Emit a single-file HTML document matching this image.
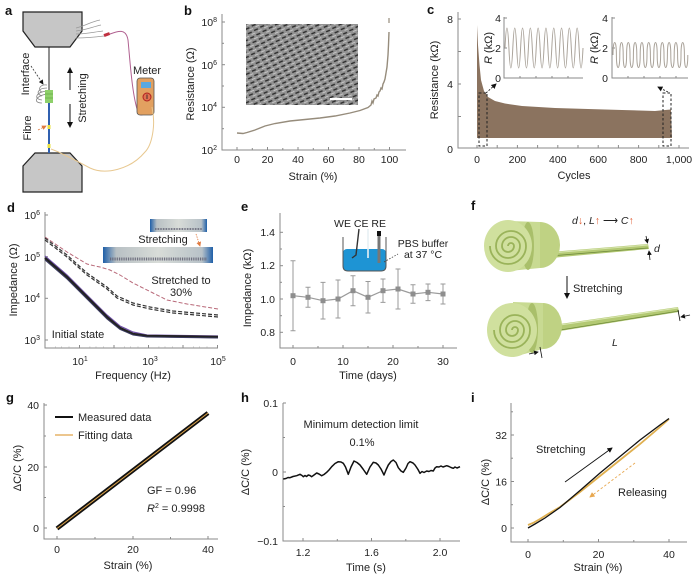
<!DOCTYPE html>
<html><head><meta charset="utf-8">
<style>
html,body{margin:0;padding:0;background:#fff;}
svg{display:block;font-family:"Liberation Sans",Arial,sans-serif;}
.t{font-size:10.5px;fill:#222;}
.ti{font-size:11px;fill:#222;}
.pl{font-size:13px;font-weight:bold;fill:#111;}
.ax{stroke:#8a8a8a;stroke-width:1;fill:none;}
</style></head><body>
<svg width="700" height="578" viewBox="0 0 700 578" xmlns="http://www.w3.org/2000/svg">
<defs>
<pattern id="sem" width="7" height="5" patternUnits="userSpaceOnUse" patternTransform="rotate(-28)">
<rect width="7" height="5" fill="#8c8c8c"/>
<path d="M0,1.2 L4.2,1.6" stroke="#1e1e1e" stroke-width="1.4"/>
<path d="M3,3.6 L7,3.9" stroke="#d4d4d4" stroke-width="0.8"/>
</pattern>
<linearGradient id="ph" x1="0" y1="0" x2="1" y2="0">
<stop offset="0" stop-color="#1f5fa8"/><stop offset="0.12" stop-color="#b8c0c4"/><stop offset="0.5" stop-color="#d8dcd8"/><stop offset="0.9" stop-color="#b8c2c8"/><stop offset="1" stop-color="#1f5fa8"/>
</linearGradient>
<marker id="ah" markerWidth="6" markerHeight="6" refX="5" refY="3" orient="auto"><path d="M0,0 L6,3 L0,6 z" fill="#111"/></marker>
<marker id="ahr" markerWidth="6" markerHeight="6" refX="5" refY="3" orient="auto"><path d="M0,0 L6,3 L0,6 z" fill="#e07a40"/></marker>
<marker id="aho" markerWidth="6" markerHeight="6" refX="5" refY="3" orient="auto"><path d="M0,0 L6,3 L0,6 z" fill="#e8a850"/></marker>
</defs>

<!-- ============ PANEL A ============ -->
<text class="pl" x="5" y="15">a</text>
<polygon points="23,12 82,12 82,31 70,47 35,47 23,31" fill="#c6c6c6" stroke="#222" stroke-width="1.2"/>
<polygon points="35,153 70,153 82,166 82,192 23,192 23,166" fill="#c6c6c6" stroke="#222" stroke-width="1.2"/>
<path d="M76,28 C85,26 90,22 100,20" stroke="#999" stroke-width="0.8" fill="none"/>
<path d="M76,31 C86,30 92,27 101,25" stroke="#999" stroke-width="0.8" fill="none"/>
<path d="M76,34 C86,34 94,32 103,31" stroke="#999" stroke-width="0.8" fill="none"/>
<path d="M76,38 C86,38 96,37 104,36" stroke="#999" stroke-width="0.8" fill="none"/>
<rect x="104" y="33" width="6" height="3" fill="#c03040" transform="rotate(-20 107 35)"/>
<path d="M110,34 C118,31 126,28 128,40 C130,60 132,95 138,112 C141,118 146,114 146,108" stroke="#b06090" stroke-width="1" fill="none"/>
<rect x="137" y="78" width="17" height="37" rx="3" fill="#e2a060" stroke="#555" stroke-width="0.8"/>
<rect x="141" y="82" width="10" height="6" fill="#5aa8e0"/>
<circle cx="147" cy="97" r="4" fill="#e07050" stroke="#b02020" stroke-width="1"/>
<line x1="147" y1="94.5" x2="147" y2="99" stroke="#222" stroke-width="0.8"/>
<text class="ti" x="147" y="74" text-anchor="middle">Meter</text>
<path d="M152,107 C156,125 152,145 145,152 C130,170 105,175 90,168 C75,160 60,152 51,149" stroke="#e8c890" stroke-width="1" fill="none"/>
<line x1="49" y1="47" x2="49" y2="90" stroke="#222" stroke-width="1"/>
<path d="M47,85 C40,84 37,90 42,92 M47,88 C38,88 35,94 42,96 M47,91 C36,92 33,99 42,100 M47,94 C35,96 33,103 42,103" stroke="#888" stroke-width="0.8" fill="none"/>
<rect x="45" y="90" width="8" height="13" fill="#8ed06a"/>
<line x1="45" y1="94" x2="53" y2="94" stroke="#5ca040" stroke-width="0.6"/>
<line x1="45" y1="98" x2="53" y2="98" stroke="#5ca040" stroke-width="0.6"/>
<line x1="49" y1="103" x2="49" y2="153" stroke="#3060b0" stroke-width="2"/>
<rect x="47.5" y="125" width="3" height="4" fill="#e8e040"/>
<rect x="47.5" y="144" width="3" height="4" fill="#e8e040"/>
<path d="M31,66 L43,84" stroke="#333" stroke-width="0.8" stroke-dasharray="2,1.5" marker-end="url(#ah)"/>
<path d="M38,130 L46,126" stroke="#e07a40" stroke-width="0.8" stroke-dasharray="2,1.5" marker-end="url(#ahr)"/>
<text class="ti" transform="translate(29,74) rotate(-90)" text-anchor="middle">Interface</text>
<text class="ti" transform="translate(31,128) rotate(-90)" text-anchor="middle">Fibre</text>
<line x1="70" y1="90" x2="70" y2="68" stroke="#111" stroke-width="1" marker-end="url(#ah)"/>
<line x1="70" y1="104" x2="70" y2="127" stroke="#111" stroke-width="1" marker-end="url(#ah)"/>
<text class="ti" transform="translate(86,98) rotate(-90)" text-anchor="middle">Stretching</text>

<!-- ============ PANEL B ============ -->
<text class="pl" x="184" y="15">b</text>
<path class="ax" d="M222,14 L222,150 L406,150"/>
<g stroke="#8a8a8a" stroke-width="1">
<line x1="222" y1="22" x2="225" y2="22"/><line x1="222" y1="43.3" x2="224" y2="43.3"/>
<line x1="222" y1="64.7" x2="225" y2="64.7"/><line x1="222" y1="86" x2="224" y2="86"/>
<line x1="222" y1="107.3" x2="225" y2="107.3"/><line x1="222" y1="128.7" x2="224" y2="128.7"/>
<line x1="237" y1="150" x2="237" y2="147"/><line x1="252.3" y1="150" x2="252.3" y2="148"/>
<line x1="267.5" y1="150" x2="267.5" y2="147"/><line x1="282.8" y1="150" x2="282.8" y2="148"/>
<line x1="298" y1="150" x2="298" y2="147"/><line x1="313.3" y1="150" x2="313.3" y2="148"/>
<line x1="328.5" y1="150" x2="328.5" y2="147"/><line x1="343.8" y1="150" x2="343.8" y2="148"/>
<line x1="359" y1="150" x2="359" y2="147"/><line x1="374.3" y1="150" x2="374.3" y2="148"/>
<line x1="389.5" y1="150" x2="389.5" y2="147"/>
</g>
<text class="t" x="217" y="26" text-anchor="end">10<tspan font-size="7" dy="-4">8</tspan></text>
<text class="t" x="217" y="69" text-anchor="end">10<tspan font-size="7" dy="-4">6</tspan></text>
<text class="t" x="217" y="111" text-anchor="end">10<tspan font-size="7" dy="-4">4</tspan></text>
<text class="t" x="217" y="154" text-anchor="end">10<tspan font-size="7" dy="-4">2</tspan></text>
<g class="t" text-anchor="middle">
<text x="237" y="163">0</text><text x="267.5" y="163">20</text><text x="298" y="163">40</text>
<text x="328.5" y="163">60</text><text x="359" y="163">80</text><text x="389.5" y="163">100</text>
</g>
<text class="ti" x="313" y="180" text-anchor="middle">Strain (%)</text>
<text class="ti" transform="translate(194,84) rotate(-90)" text-anchor="middle">Resistance (Ω)</text>
<rect x="246" y="24" width="112" height="81" fill="url(#sem)"/>
<rect x="246" y="24" width="112" height="81" fill="#fff" opacity="0.06"/>
<line x1="330" y1="99" x2="352" y2="99" stroke="#fff" stroke-width="2"/>
<polyline points="237,133 243,133.5 247,132.5 255,130 265,126 275,123.5 290,121 305,119.5 320,118 335,116 350,113 360,110.5 368,107.5 371,105 372,101 373,103 374,99 376,98 377,95 378,96 379,92 380,91 381,88 382,89 383,84 384,82 385,79 386,73 387,67 388,55 388.5,45 389,32" fill="none" stroke="#968c7c" stroke-width="1.4"/>
<line x1="389" y1="18" x2="389" y2="23" stroke="#968c7c" stroke-width="1.2"/>

<!-- ============ PANEL C ============ -->
<text class="pl" x="427" y="14">c</text>
<path class="ax" d="M458,12 L458,148 L689,148"/>
<g stroke="#8a8a8a" stroke-width="1">
<line x1="458" y1="19" x2="461" y2="19"/><line x1="458" y1="51.5" x2="461" y2="51.5"/>
<line x1="458" y1="84" x2="461" y2="84"/><line x1="458" y1="116.5" x2="461" y2="116.5"/>
<line x1="477" y1="148" x2="477" y2="145"/><line x1="497.2" y1="148" x2="497.2" y2="145"/>
<line x1="517.4" y1="148" x2="517.4" y2="145"/><line x1="537.6" y1="148" x2="537.6" y2="145"/>
<line x1="557.8" y1="148" x2="557.8" y2="145"/><line x1="578" y1="148" x2="578" y2="145"/>
<line x1="598.2" y1="148" x2="598.2" y2="145"/><line x1="618.4" y1="148" x2="618.4" y2="145"/>
<line x1="638.6" y1="148" x2="638.6" y2="145"/><line x1="658.8" y1="148" x2="658.8" y2="145"/>
<line x1="679" y1="148" x2="679" y2="145"/>
</g>
<g class="t" text-anchor="end"><text x="453" y="23">8</text><text x="453" y="88">4</text><text x="453" y="153">0</text></g>
<g class="t" text-anchor="middle">
<text x="477" y="163">0</text><text x="517.4" y="163">200</text><text x="557.8" y="163">400</text>
<text x="598.2" y="163">600</text><text x="638.6" y="163">800</text><text x="679" y="163">1,000</text>
</g>
<text class="ti" x="574" y="179" text-anchor="middle">Cycles</text>
<text class="ti" transform="translate(438,80) rotate(-90)" text-anchor="middle">Resistance (kΩ)</text>
<path d="M477,138 L477,25 L478,45 L479.5,65 L481,80 L484,91 L488,97 L495,101 L505,103.5 L522,106 L555,108 L588,109 L622,110 L655,111 L665,110 L671,109.5 L672,138 Z" fill="#8b735f"/>
<rect x="479" y="93" width="8" height="53" fill="none" stroke="#222" stroke-width="1" stroke-dasharray="2.5,2"/>
<rect x="663" y="93" width="8" height="53" fill="none" stroke="#222" stroke-width="1" stroke-dasharray="2.5,2"/>
<line x1="486" y1="93" x2="496" y2="84" stroke="#222" stroke-width="0.9" stroke-dasharray="2,1.5" marker-end="url(#ah)"/>
<line x1="668" y1="92" x2="658" y2="87" stroke="#222" stroke-width="0.9" stroke-dasharray="2,1.5" marker-end="url(#ah)"/>
<path class="ax" d="M504,17 L504,78 L583,78"/>
<g stroke="#8a8a8a" stroke-width="1"><line x1="504" y1="18" x2="507" y2="18"/><line x1="504" y1="48" x2="507" y2="48"/>
<line x1="520" y1="78" x2="520" y2="76"/><line x1="536" y1="78" x2="536" y2="76"/><line x1="552" y1="78" x2="552" y2="76"/><line x1="568" y1="78" x2="568" y2="76"/></g>
<g class="t" text-anchor="end"><text x="501" y="22">4</text><text x="501" y="52">2</text><text x="501" y="82">0</text></g>
<text class="ti" transform="translate(492,48) rotate(-90)" text-anchor="middle"><tspan font-style="italic">R</tspan> (kΩ)</text>
<path d="M505,48 q1.95,-40 3.9,0 t3.9,0 t3.9,0 t3.9,0 t3.9,0 t3.9,0 t3.9,0 t3.9,0 t3.9,0 t3.9,0 t3.9,0 t3.9,0 t3.9,0 t3.9,0 t3.9,0 t3.9,0 t3.9,0 t3.9,0 t3.9,0 t3.9,0" fill="none" stroke="#aaa39a" stroke-width="1"/>
<path class="ax" d="M612,17 L612,78 L688,78"/>
<g stroke="#8a8a8a" stroke-width="1"><line x1="612" y1="18" x2="615" y2="18"/><line x1="612" y1="48" x2="615" y2="48"/>
<line x1="628" y1="78" x2="628" y2="76"/><line x1="644" y1="78" x2="644" y2="76"/><line x1="660" y1="78" x2="660" y2="76"/><line x1="676" y1="78" x2="676" y2="76"/></g>
<g class="t" text-anchor="end"><text x="608" y="22">4</text><text x="608" y="52">2</text><text x="608" y="82">0</text></g>
<text class="ti" transform="translate(598,48) rotate(-90)" text-anchor="middle"><tspan font-style="italic">R</tspan> (kΩ)</text>
<path d="M613,55 c0,-16.7 3.4,-16.7 3.4,0 c0,16.7 3.4,16.7 3.4,0 c0,-16.7 3.4,-16.7 3.4,0 c0,16.7 3.4,16.7 3.4,0 c0,-16.7 3.4,-16.7 3.4,0 c0,16.7 3.4,16.7 3.4,0 c0,-16.7 3.4,-16.7 3.4,0 c0,16.7 3.4,16.7 3.4,0 c0,-16.7 3.4,-16.7 3.4,0 c0,16.7 3.4,16.7 3.4,0 c0,-16.7 3.4,-16.7 3.4,0 c0,16.7 3.4,16.7 3.4,0 c0,-16.7 3.4,-16.7 3.4,0 c0,16.7 3.4,16.7 3.4,0 c0,-16.7 3.4,-16.7 3.4,0 c0,16.7 3.4,16.7 3.4,0 c0,-16.7 3.4,-16.7 3.4,0 c0,16.7 3.4,16.7 3.4,0 c0,-16.7 3.4,-16.7 3.4,0 c0,16.7 3.4,16.7 3.4,0 c0,-16.7 3.4,-16.7 3.4,0 c0,16.7 3.4,16.7 3.4,0" fill="none" stroke="#aaa39a" stroke-width="1"/>

<!-- ============ PANEL D ============ -->
<text class="pl" x="7" y="212">d</text>
<path class="ax" d="M45,212 L45,348 L218,348"/>
<g stroke="#8a8a8a" stroke-width="1">
<line x1="45" y1="215" x2="48" y2="215"/><line x1="45" y1="256.7" x2="48" y2="256.7"/><line x1="45" y1="298.3" x2="48" y2="298.3"/><line x1="45" y1="340" x2="48" y2="340"/>
<line x1="79.5" y1="348" x2="79.5" y2="345"/><line x1="114" y1="348" x2="114" y2="345"/><line x1="148.5" y1="348" x2="148.5" y2="345"/><line x1="183" y1="348" x2="183" y2="345"/><line x1="217.5" y1="348" x2="217.5" y2="345"/>
</g>
<g stroke="#aaa" stroke-width="0.7">
<line x1="55.4" y1="348" x2="55.4" y2="346.5"/><line x1="61.5" y1="348" x2="61.5" y2="346.5"/><line x1="69" y1="348" x2="69" y2="346.5"/>
<line x1="89.9" y1="348" x2="89.9" y2="346.5"/><line x1="96" y1="348" x2="96" y2="346.5"/><line x1="103.5" y1="348" x2="103.5" y2="346.5"/>
<line x1="124.4" y1="348" x2="124.4" y2="346.5"/><line x1="130.5" y1="348" x2="130.5" y2="346.5"/><line x1="138" y1="348" x2="138" y2="346.5"/>
<line x1="158.9" y1="348" x2="158.9" y2="346.5"/><line x1="165" y1="348" x2="165" y2="346.5"/><line x1="172.5" y1="348" x2="172.5" y2="346.5"/>
<line x1="193.4" y1="348" x2="193.4" y2="346.5"/><line x1="199.5" y1="348" x2="199.5" y2="346.5"/><line x1="207" y1="348" x2="207" y2="346.5"/>
</g>
<text class="t" x="40" y="219" text-anchor="end">10<tspan font-size="7" dy="-4">6</tspan></text>
<text class="t" x="40" y="261" text-anchor="end">10<tspan font-size="7" dy="-4">5</tspan></text>
<text class="t" x="40" y="302" text-anchor="end">10<tspan font-size="7" dy="-4">4</tspan></text>
<text class="t" x="40" y="344" text-anchor="end">10<tspan font-size="7" dy="-4">3</tspan></text>
<text class="t" x="80" y="365" text-anchor="middle">10<tspan font-size="7" dy="-4">1</tspan></text>
<text class="t" x="150" y="365" text-anchor="middle">10<tspan font-size="7" dy="-4">3</tspan></text>
<text class="t" x="218" y="365" text-anchor="middle">10<tspan font-size="7" dy="-4">5</tspan></text>
<text class="ti" x="133" y="379" text-anchor="middle">Frequency (Hz)</text>
<text class="ti" transform="translate(17,280) rotate(-90)" text-anchor="middle">Impedance (Ω)</text>
<polyline points="45,237 67,252 87,264 95,266 100,267 110,270 120,275 133,283 153,293 167,300 187,304 218,309" fill="none" stroke="#b86878" stroke-width="1" stroke-dasharray="4,2"/>
<polyline points="45,238 67,255 87,273 107,287 117,296 133,303 150,307 173,311 218,315" fill="none" stroke="#333" stroke-width="1.2" stroke-dasharray="4,2"/>
<polyline points="45,240 67,257 87,275 107,289 117,298 133,305 150,309 173,313 218,317" fill="none" stroke="#333" stroke-width="1.2" stroke-dasharray="4,2"/>
<polyline points="45,256 67,275 87,295 107,315 120,326 133,332 147,335 218,336" fill="none" stroke="#7050a8" stroke-width="1.2"/>
<polyline points="45,258 67,277 87,297 107,317 120,328 133,334 147,336 218,337" fill="none" stroke="#222" stroke-width="2.4"/>
<polyline points="45,260 67,279 87,299 107,319 120,329.5 133,335 147,337 218,338" fill="none" stroke="#3a3a60" stroke-width="1"/>
<rect x="150" y="219" width="57" height="13" fill="url(#ph)"/>
<line x1="155" y1="229" x2="202" y2="229" stroke="#667" stroke-width="2" stroke-dasharray="0.8,0.8"/>
<rect x="103" y="247" width="110" height="16" fill="url(#ph)"/>
<line x1="110" y1="259" x2="207" y2="259" stroke="#667" stroke-width="3" stroke-dasharray="0.9,0.9"/>
<text class="ti" x="163" y="243" text-anchor="middle">Stretching</text>
<line x1="196" y1="234" x2="200" y2="246" stroke="#e07a40" stroke-width="0.8" stroke-dasharray="1.5,1" marker-end="url(#ahr)"/>
<text class="ti" x="181" y="284" text-anchor="middle">Stretched to</text>
<text class="ti" x="181" y="296" text-anchor="middle">30%</text>
<text class="ti" x="78" y="338" text-anchor="middle">Initial state</text>

<!-- ============ PANEL E ============ -->
<text class="pl" x="241" y="211">e</text>
<path class="ax" d="M280,213 L280,348 L457,348"/>
<g stroke="#8a8a8a" stroke-width="1">
<line x1="280" y1="232.3" x2="283" y2="232.3"/><line x1="280" y1="265.7" x2="283" y2="265.7"/><line x1="280" y1="299" x2="283" y2="299"/><line x1="280" y1="332.3" x2="283" y2="332.3"/>
<line x1="280" y1="249" x2="282" y2="249"/><line x1="280" y1="282.3" x2="282" y2="282.3"/><line x1="280" y1="315.7" x2="282" y2="315.7"/>
<line x1="293" y1="348" x2="293" y2="345"/><line x1="318" y1="348" x2="318" y2="346"/><line x1="343" y1="348" x2="343" y2="345"/><line x1="368" y1="348" x2="368" y2="346"/><line x1="393" y1="348" x2="393" y2="345"/><line x1="418" y1="348" x2="418" y2="346"/><line x1="443" y1="348" x2="443" y2="345"/>
</g>
<g class="t" text-anchor="end"><text x="275" y="236">1.4</text><text x="275" y="269">1.2</text><text x="275" y="303">1.0</text><text x="275" y="336">0.8</text></g>
<g class="t" text-anchor="middle"><text x="293" y="365">0</text><text x="343" y="365">10</text><text x="393" y="365">20</text><text x="443" y="365">30</text></g>
<text class="ti" x="368" y="379" text-anchor="middle">Time (days)</text>
<text class="ti" transform="translate(251,288) rotate(-90)" text-anchor="middle">Impedance (kΩ)</text>
<g stroke="#9a9a9a" stroke-width="1" fill="none">
<path d="M293,260.7 V330.7 M290.5,260.7 H295.5 M290.5,330.7 H295.5"/>
<path d="M308,287.3 V307.3 M305.5,287.3 H310.5 M305.5,307.3 H310.5"/>
<path d="M323,282.4 V319 M320.5,282.4 H325.5 M320.5,319 H325.5"/>
<path d="M338,280 V318 M335.5,280 H340.5 M335.5,318 H340.5"/>
<path d="M353,275.7 V305.7 M350.5,275.7 H355.5 M350.5,305.7 H355.5"/>
<path d="M368,281.5 V313 M365.5,281.5 H370.5 M365.5,313 H370.5"/>
<path d="M383,279 V302.4 M380.5,279 H385.5 M380.5,302.4 H385.5"/>
<path d="M398,269 V309 M395.5,269 H400.5 M395.5,309 H400.5"/>
<path d="M413,284.8 V303.2 M410.5,284.8 H415.5 M410.5,303.2 H415.5"/>
<path d="M428,284 V300.6 M425.5,284 H430.5 M425.5,300.6 H430.5"/>
<path d="M443,284 V304 M440.5,284 H445.5 M440.5,304 H445.5"/>
<polyline points="293,295.7 308,297.3 323,300.7 338,299 353,290.7 368,297.3 383,290.7 398,289 413,294 428,292.3 443,294" stroke-width="1.2"/>
</g>
<g fill="#8e8e8e">
<rect x="290.5" y="293.2" width="5" height="5"/><rect x="305.5" y="294.8" width="5" height="5"/><rect x="320.5" y="298.2" width="5" height="5"/>
<rect x="335.5" y="296.5" width="5" height="5"/><rect x="350.5" y="288.2" width="5" height="5"/><rect x="365.5" y="294.8" width="5" height="5"/>
<rect x="380.5" y="288.2" width="5" height="5"/><rect x="395.5" y="286.5" width="5" height="5"/><rect x="410.5" y="291.5" width="5" height="5"/>
<rect x="425.5" y="289.8" width="5" height="5"/><rect x="440.5" y="291.5" width="5" height="5"/>
</g>
<rect x="343" y="249" width="43" height="22" rx="4" fill="#1e94d4"/>
<path d="M343,237 L343,266 Q343,271 348,271 L381,271 Q386,271 386,266 L386,237" fill="none" stroke="#555" stroke-width="1"/>
<path d="M359,229 L356,255 L352,258" stroke="#333" stroke-width="1.4" fill="none"/>
<line x1="368" y1="229" x2="368" y2="258" stroke="#e8f0f4" stroke-width="1.6"/>
<line x1="379" y1="235" x2="379" y2="263" stroke="#777" stroke-width="3"/>
<rect x="377" y="231" width="4" height="5" fill="#111"/>
<text class="t" x="360" y="227" text-anchor="middle">WE CE RE</text>
<path d="M384,262 L398,254" stroke="#444" stroke-width="0.8" stroke-dasharray="1.5,1.5"/>
<text class="t" x="423" y="247" text-anchor="middle">PBS buffer</text>
<text class="t" x="423" y="258" text-anchor="middle">at 37 °C</text>

<!-- ============ PANEL F ============ -->
<text class="pl" x="471" y="210">f</text>
<text x="572" y="224" font-size="10.5" fill="#222"><tspan font-style="italic">d</tspan><tspan fill="#e05a30">↓</tspan>, <tspan font-style="italic">L</tspan><tspan fill="#e05a30">↑</tspan> ⟶ <tspan font-style="italic">C</tspan><tspan fill="#e05a30">↑</tspan></text>
<polygon points="550,252 648,244 649,249 551,258" fill="#b3c973"/>
<line x1="550" y1="253" x2="648" y2="245" stroke="#d9e6b0" stroke-width="1"/>
<line x1="550" y1="256" x2="648" y2="248" stroke="#6f8a3c" stroke-width="0.8"/>
<ellipse cx="540" cy="245" rx="20" ry="23" fill="#bfd283"/>
<path d="M509,221 L540,222 L540,268 L509,271 Z" fill="#c8da92"/>
<ellipse cx="528" cy="246" rx="6" ry="24" fill="#a9bf6a"/>
<ellipse cx="508" cy="246" rx="24" ry="26" fill="#d0e09e"/>
<path d="M508,246 a3,3 0 0 1 6,0 a6,6 0 0 1 -12,0 a9,9 0 0 1 18,0 a12,12 0 0 1 -24,0 a15,15 0 0 1 30,0 a18,18 0 0 1 -36,0" fill="none" stroke="#9ab35a" stroke-width="1.8"/>
<path d="M646,236 L647.5,243" stroke="#111" stroke-width="0.8" marker-end="url(#ah)"/>
<path d="M650,260 L649,251" stroke="#111" stroke-width="0.8" marker-end="url(#ah)"/>
<text x="654" y="252" font-size="10.5" font-style="italic" fill="#222">d</text>
<line x1="567" y1="276" x2="567" y2="298" stroke="#111" stroke-width="1" marker-end="url(#ah)"/>
<text class="ti" x="573" y="292">Stretching</text>
<polygon points="553,325 678,307 679,312 554,332" fill="#b3c973"/>
<line x1="553" y1="326" x2="678" y2="308" stroke="#d9e6b0" stroke-width="1"/>
<line x1="554" y1="331" x2="679" y2="311" stroke="#6f8a3c" stroke-width="0.8"/>
<ellipse cx="543" cy="326" rx="19" ry="23" fill="#bfd283"/>
<path d="M513,302 L543,303 L543,349 L513,357 Z" fill="#c8da92"/>
<ellipse cx="532" cy="328" rx="6" ry="25" fill="#a9bf6a"/>
<ellipse cx="512" cy="330" rx="25" ry="27" fill="#d0e09e"/>
<path d="M512,330 a3,3 0 0 1 6,0 a6,6 0 0 1 -12,0 a9,9 0 0 1 18,0 a12,12 0 0 1 -24,0 a15,15 0 0 1 30,0 a18,18 0 0 1 -36,0" fill="none" stroke="#9ab35a" stroke-width="1.8"/>
<path d="M690,315 L681,317" stroke="#111" stroke-width="0.8" marker-end="url(#ah)"/>
<line x1="678" y1="310" x2="680" y2="321" stroke="#111" stroke-width="0.8"/>
<path d="M529,354 L538,352" stroke="#111" stroke-width="0.8" marker-end="url(#ah)"/>
<line x1="540" y1="347" x2="542" y2="358" stroke="#111" stroke-width="0.8"/>
<text x="612" y="346" font-size="10.5" font-style="italic" fill="#222">L</text>

<!-- ============ PANEL G ============ -->
<text class="pl" x="6" y="402">g</text>
<path class="ax" d="M44,403 L44,539 L218,539"/>
<g stroke="#8a8a8a" stroke-width="1">
<line x1="44" y1="405" x2="47" y2="405"/><line x1="44" y1="436" x2="46" y2="436"/><line x1="44" y1="467" x2="47" y2="467"/><line x1="44" y1="497.5" x2="46" y2="497.5"/><line x1="44" y1="528" x2="47" y2="528"/>
<line x1="57" y1="539" x2="57" y2="536"/><line x1="95" y1="539" x2="95" y2="537"/><line x1="133" y1="539" x2="133" y2="536"/><line x1="170.5" y1="539" x2="170.5" y2="537"/><line x1="208" y1="539" x2="208" y2="536"/>
</g>
<g class="t" text-anchor="end"><text x="39" y="409">40</text><text x="39" y="471">20</text><text x="39" y="532">0</text></g>
<g class="t" text-anchor="middle"><text x="57" y="553">0</text><text x="133" y="553">20</text><text x="208" y="553">40</text></g>
<text class="ti" x="128" y="569" text-anchor="middle">Strain (%)</text>
<text class="ti" transform="translate(21,468) rotate(-90)" text-anchor="middle">ΔC/C (%)</text>
<line x1="57" y1="528.5" x2="208" y2="413" stroke="#111" stroke-width="4.5"/>
<line x1="57" y1="528.5" x2="208" y2="413" stroke="#e0a54a" stroke-width="1"/>
<line x1="55" y1="417" x2="73" y2="417" stroke="#111" stroke-width="2"/>
<line x1="55" y1="435" x2="73" y2="435" stroke="#e0a54a" stroke-width="1.2"/>
<text class="ti" x="78" y="421">Measured data</text>
<text class="ti" x="78" y="439">Fitting data</text>
<text class="ti" x="147" y="494">GF = 0.96</text>
<text class="ti" x="147" y="512"><tspan font-style="italic">R</tspan><tspan font-size="7" dy="-4">2</tspan><tspan dy="4"> = 0.9998</tspan></text>

<!-- ============ PANEL H ============ -->
<text class="pl" x="241" y="402">h</text>
<path class="ax" d="M283,403 L283,541 L460,541"/>
<g stroke="#8a8a8a" stroke-width="1">
<line x1="283" y1="403" x2="286" y2="403"/><line x1="283" y1="437.5" x2="285" y2="437.5"/><line x1="283" y1="472" x2="286" y2="472"/><line x1="283" y1="506.5" x2="285" y2="506.5"/>
<line x1="303" y1="541" x2="303" y2="538"/><line x1="337.3" y1="541" x2="337.3" y2="539"/><line x1="371.5" y1="541" x2="371.5" y2="538"/><line x1="405.8" y1="541" x2="405.8" y2="539"/><line x1="440" y1="541" x2="440" y2="538"/>
</g>
<g class="t" text-anchor="end"><text x="278" y="407">0.1</text><text x="278" y="476">0</text><text x="278" y="545">−0.1</text></g>
<g class="t" text-anchor="middle"><text x="303" y="556">1.2</text><text x="371.5" y="556">1.6</text><text x="440" y="556">2.0</text></g>
<text class="ti" x="366" y="571" text-anchor="middle">Time (s)</text>
<text class="ti" transform="translate(249,472) rotate(-90)" text-anchor="middle">ΔC/C (%)</text>
<text class="ti" x="361" y="428" text-anchor="middle">Minimum detection limit</text>
<text class="ti" x="362" y="446" text-anchor="middle">0.1%</text>
<polyline points="283.3,479 286,478.5 288,477.5 290,477.7 293,476.5 296.7,475.7 300,474.3 302,475.5 303.3,476.7 305,475.5 306.5,476.5 308.3,475 310,475.5 311.7,476.7 314,475 316.7,473 319,474 321.7,475.7 324,474.5 326.7,472.3 329,470 331.7,466.7 335,463.5 338.3,461.7 341,462 343.3,463.3 345.5,467 348.3,474.3 351,467 354,461 357,462.5 360,465 363,469 366.7,474.3 370,467 373.3,462.3 376,463 378.3,465 381,469 384,475 386,470 388.3,465 391,461.5 393.3,460 396,462.5 398.3,467.7 401,471 403.3,472.3 406,468 408,463.5 410,461.7 413,463 415,465 418,469.5 420,473.3 422,471.5 424,472.5 426.7,471 429,471.5 431,470.5 433.3,471 435,468 436.7,466.7 439,467 441,466 443,467 446.7,465.7 449,466.5 451,467.5 453.3,468.3 455,467 457,468 460,466.7" fill="none" stroke="#111" stroke-width="1.5" stroke-linejoin="round"/>

<!-- ============ PANEL I ============ -->
<text class="pl" x="471" y="402">i</text>
<path class="ax" d="M511,403 L511,542 L687,542"/>
<g stroke="#8a8a8a" stroke-width="1">
<line x1="511" y1="435" x2="514" y2="435"/><line x1="511" y1="458.2" x2="513" y2="458.2"/><line x1="511" y1="481.5" x2="514" y2="481.5"/><line x1="511" y1="504.7" x2="513" y2="504.7"/><line x1="511" y1="528" x2="514" y2="528"/><line x1="511" y1="411.8" x2="513" y2="411.8"/>
<line x1="528" y1="542" x2="528" y2="539"/><line x1="563.3" y1="542" x2="563.3" y2="540"/><line x1="598.5" y1="542" x2="598.5" y2="539"/><line x1="633.8" y1="542" x2="633.8" y2="540"/><line x1="669" y1="542" x2="669" y2="539"/>
</g>
<g class="t" text-anchor="end"><text x="507" y="439">32</text><text x="507" y="485.5">16</text><text x="507" y="532">0</text></g>
<g class="t" text-anchor="middle"><text x="528" y="558">0</text><text x="598.5" y="558">20</text><text x="669" y="558">40</text></g>
<text class="ti" x="598" y="571" text-anchor="middle">Strain (%)</text>
<text class="ti" transform="translate(489,482) rotate(-90)" text-anchor="middle">ΔC/C (%)</text>
<polyline points="528,525 533,523 540,519 548,514 560,507 580,492 600,476 620,460 640,444 660,427 669,419" fill="none" stroke="#e0b050" stroke-width="1.8"/>
<polyline points="528,528 535,524 545,518 560,507.5 580,490.5 600,473 620,456.5 640,440 660,425 669,418.5" fill="none" stroke="#111" stroke-width="1.3"/>
<text class="ti" x="536" y="453">Stretching</text>
<line x1="565" y1="482" x2="612" y2="448" stroke="#111" stroke-width="0.9" marker-end="url(#ah)"/>
<text class="ti" x="618" y="496">Releasing</text>
<line x1="635" y1="463" x2="590" y2="497" stroke="#e8a850" stroke-width="0.9" stroke-dasharray="2.5,2" marker-end="url(#aho)"/>
</svg>
</body></html>
